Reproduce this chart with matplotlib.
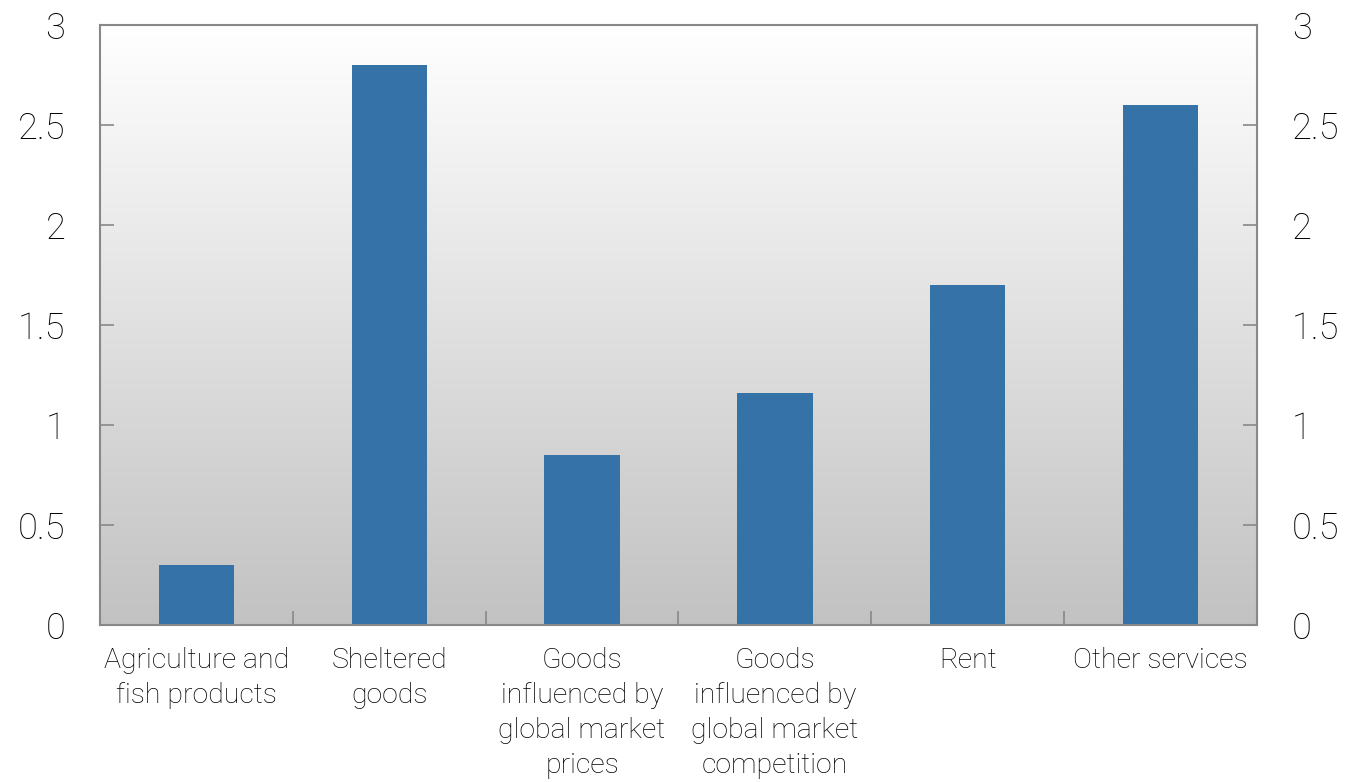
import numpy as np
import matplotlib
matplotlib.use("Agg")
import matplotlib.pyplot as plt
from matplotlib.colors import LinearSegmentedColormap

categories = [
    "Agriculture and\nfish products",
    "Sheltered\ngoods",
    "Goods\ninfluenced by\nglobal market\nprices",
    "Goods\ninfluenced by\nglobal market\ncompetition",
    "Rent",
    "Other services",
]
values = [0.3, 2.8, 0.85, 1.16, 1.7, 2.6]
yticks = [0, 0.5, 1, 1.5, 2, 2.5, 3]
ytick_labels = ["0", "0.5", "1", "1.5", "2", "2.5", "3"]

plt.rcParams["font.family"] = ["Roboto", "DejaVu Sans"]
plt.rcParams["font.weight"] = "light"

fig = plt.figure(figsize=(13.5, 7.82), dpi=100)
ax = fig.add_axes([100 / 1350, 1 - 625 / 782, 1157 / 1350, 600 / 782])

n = len(categories)
ax.set_xlim(-0.5, n - 0.5)
ax.set_ylim(0, 3)

# vertical grey gradient background
grad = np.linspace(0, 1, 256).reshape(-1, 1)
cmap = LinearSegmentedColormap.from_list("bg", ["#c2c2c2", "#ffffff"])
ax.imshow(grad, cmap=cmap, aspect="auto", origin="lower",
          extent=[-0.5, n - 0.5, 0, 3], zorder=0)

x = np.arange(n)
ax.bar(x, values, width=0.39, color="#3472a8", zorder=2)

spine_color = "#888888"
for s in ax.spines.values():
    s.set_color(spine_color)
    s.set_linewidth(1.5)

text_color = "#000000"

ax.set_yticks(yticks)
ax.set_yticklabels(ytick_labels, fontweight="light")
ax.tick_params(axis="y", direction="in", length=10, width=1.2, color=spine_color,
               labelsize=26, left=True, right=True, labelleft=True, labelright=True,
               pad=25, labelcolor=text_color)
for lbl in ax.get_yticklabels(which="both"):
    lbl.set_fontweight("light")
for lbl in ax.yaxis.get_ticklabels(which="both"):
    lbl.set_fontweight("light")

# category boundaries as minor ticks, labels centred under bars
ax.set_xticks(x)
ax.set_xticklabels(categories, fontsize=20.5, linespacing=1.38, color=text_color,
                   fontweight="light")
ax.tick_params(axis="x", which="major", length=0, pad=16)
ax.set_xticks(np.arange(0.5, n - 1, 1), minor=True)
ax.tick_params(axis="x", which="minor", direction="in", length=10, width=1.2,
               color=spine_color)

fig.savefig("out.png", dpi=100)
